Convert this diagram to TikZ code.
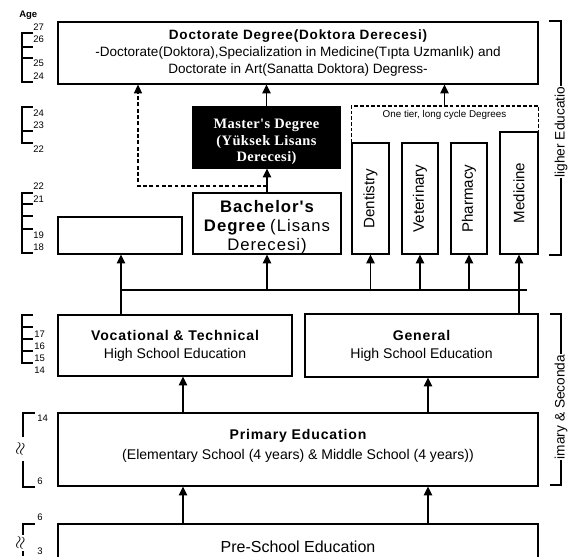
\documentclass[tikz,border=0pt]{standalone}
\usepackage{fontspec}
\setmainfont{Liberation Sans}
\newfontfamily\spacedfont{Liberation Sans}[LetterSpace=6]
\newfontfamily\mastfont{Liberation Serif}[LetterSpace=3]
\usetikzlibrary{arrows.meta,fit}

\newcommand\docfont{\fontsize{7.7}{9.4}\selectfont}
\newcommand\bachfont{\fontsize{9.5}{11}\selectfont}
\newcommand\vertfont{\fontsize{8.6}{10}\selectfont}
\newcommand\tierfont{\fontsize{5.6}{7}\selectfont}
\newcommand\hsfont{\fontsize{8}{10.2}\selectfont}
\newcommand\agefont{\fontsize{5.4}{6}\selectfont}
\newcommand\sidefont{\fontsize{7.8}{9}\selectfont}

\tikzset{
  box/.style = {draw, line width=0.6pt, inner sep=0pt},
  txt/.style = {align=center, inner sep=0pt},
  up/.style = {-{Triangle[length=5pt,width=4.6pt]}, line width=1.1pt},
  dashup/.style = {up, dash pattern=on 2.2pt off 1.4pt, line width=0.8pt},
  tierline/.style = {line width=0.6pt, dash pattern=on 2pt off 1.2pt},
  bus/.style = {line width=1.1pt},
  bar/.style = {line width=0.6pt},
  num/.style = {font=\agefont, anchor=west, inner sep=0pt},
}

\begin{document}
\begin{tikzpicture}[x=0.02cm, y=-0.02cm]
\useasboundingbox (0,0) rectangle (573,556);
\clip (0,0) rectangle (573,556);

% higher education
\node [box, fit={(58,22) (538,84)}] (doc) {};
\node [txt, font=\docfont] (doctxt) at (doc.center)
  {{\spacedfont\bfseries Doctorate Degree(Doktora Derecesi)}\\
   -Doctorate(Doktora),Specialization in Medicine(Tıpta Uzmanlık) and\\
   Doctorate in Art(Sanatta Doktora) Degress-};
\node [box, fit={(193,107) (340,168)}, fill=black] (mast) {};
\node [txt, text=white, font=\mastfont\bfseries\fontsize{8.2}{9.4}\selectfont] (masttxt)
  at ([yshift=-2.5pt]mast.center) {Master's Degree\\(Yüksek Lisans\\Derecesi)};
\node [box, fit={(193,193) (341,254)}] (bach) {};
\node [txt, font=\bachfont] (bachtxt) at ([yshift=-2pt]bach.center)
  {{\spacedfont\bfseries Bachelor's}\\
   {\spacedfont\bfseries Degree} {\spacedfont (Lisans}\\
   {\spacedfont Derecesi)}};
\node [box, fit={(58,217) (182,254)}] (emp) {};

\node [box, fit={(352,143) (389,254)}] (dent) {};
\node [txt, rotate=90, font=\vertfont] (denttxt) at (dent.center) {Dentistry};
\node [box, fit={(402,143) (438,254)}] (vet) {};
\node [txt, rotate=90, font=\vertfont] (vettxt) at (vet.center) {Veterinary};
\node [box, fit={(451,143) (487,254)}] (pharm) {};
\node [txt, rotate=90, font=\vertfont] (pharmtxt) at (pharm.center) {Pharmacy};
\node [box, fit={(500,132) (538,254)}] (med) {};
\node [txt, rotate=90, font=\vertfont] (medtxt) at (med.center) {Medicine};

\coordinate (tiertop) at (444.5,106);
\draw [tierline] (dent.north west) |- (tiertop) -| (med.north east);
\node [font=\tierfont, inner sep=0pt] (tiertxt) at (444.5,115) {One tier, long cycle Degrees};

\draw [up] (mast.north) -- (doc.south -| mast.north);
\draw [up] (tiertop) -- (doc.south -| tiertop);
\draw [up] (bach.north) -- (mast.south -| bach.north);
\coordinate (split) at (267,186);
\coordinate (dashturn) at (138,186);
\draw [dashup] (split) -- (dashturn) -- (dashturn |- doc.south);

% secondary and primary
\node [box, fit={(58,315) (292,376)}] (voc) {};
\node [txt, font=\hsfont] (voctxt) at (voc.center)
  {{\spacedfont\bfseries Vocational \& Technical}\\High School Education};
\node [box, fit={(305,314) (538,377)}] (gen) {};
\node [txt, font=\hsfont] (gentxt) at (gen.center)
  {{\spacedfont\bfseries General}\\High School Education};
\node [box, fit={(58,413) (538,486)}] (prim) {};
\node [txt, font=\hsfont] (primtxt) at ([yshift=2pt]prim.center)
  {{\spacedfont\bfseries Primary Education}\\[1.5pt]
   (Elementary School (4 years) \& Middle School (4 years))};
\node [box, fit={(58,524) (538,578)}] (pre) {};
\node [txt, font=\fontsize{9.1}{10}\selectfont] (pretxt) at (298,547) {Pre-School Education};

% bus to higher education
\coordinate (busL) at (121,290);
\coordinate (busR) at (527,290);
\draw [bus] (busL) -- (busR);
\draw [up] (busL |- voc.north) -- (busL |- emp.south);
\draw [up] (busL -| bach.south) -- (bach.south);
\draw [up] (busL -| dent.south) -- (dent.south);
\draw [up] (busL -| vet.south) -- (vet.south);
\draw [up] (busL -| pharm.south) -- (pharm.south);
\draw [up] (gen.north -| med.south) -- (med.south);

\draw [up] (prim.north -| 183,0) -- (voc.south -| 183,0);
\draw [up] (prim.north -| 428,0) -- (gen.south -| 428,0);
\draw [up] (pre.north -| 183,0) -- (prim.south -| 183,0);
\draw [up] (pre.north -| 428,0) -- (prim.south -| 428,0);

% side brackets
\draw [bar] (549,21) -- (561,21) -- (561,255) -- (549,255);
\node [rotate=90, fill=white, inner sep=0.6pt, font=\sidefont] (hightxt) at (561,132) {ligher Educatio};
\draw [bar] (550,314) -- (561,314) -- (561,485) -- (550,485);
\node [rotate=90, fill=white, inner sep=0.6pt, font=\sidefont] (sectxt) at (561,407) {imary \& Seconda};

% age scale
\node [font=\agefont\bfseries, anchor=west, inner sep=0pt] (age) at (19,15) {Age};
\draw [bar] (33,33) -| (22,82) -- (33,82);
\foreach \y in {47,58} \draw [bar] (22,\y) -- (33,\y);
\foreach \n/\y in {27/27,26/39,25/63,24/76} \node [num] (n\y) at (33,\y) {\n};

\draw [bar] (33,107) -| (22,143) -- (33,143);
\draw [bar] (22,131) -- (33,131);
\foreach \n/\y in {24/113,23/125,22/149} \node [num] (n\y) at (33,\y) {\n};

\draw [bar] (33,193) -| (22,253) -- (33,253);
\foreach \y in {204,216,229} \draw [bar] (22,\y) -- (33,\y);
\foreach \n/\y in {22/186,21/199,19/235,18/247} \node [num] (n\y) at (33,\y) {\n};

\draw [bar] (33,315) -| (22,363) -- (33,363);
\foreach \y in {327,339,351} \draw [bar] (22,\y) -- (33,\y);
\foreach \n/\y in {17/334,16/346,15/358,14/370} \node [num] (n\y) at (34,\y) {\n};

\draw [bar] (35,413) -| (23,437);
\draw [bar] (23,461) |- (35,487);
\node [rotate=80, inner sep=0pt] (sq1) at (21,449) {$\approx$};
\foreach \n/\y in {14/418,6/481} \node [num] (n\y) at (37,\y) {\n};

\draw [bar] (35,524) -| (23,535);
\draw [bar] (23,551) -- (23,556);
\node [rotate=80, inner sep=0pt] (sq2) at (21,543) {$\approx$};
\foreach \n/\y in {6/517,3/551} \node [num] (n\y) at (37,\y) {\n};
\end{tikzpicture}
\end{document}
